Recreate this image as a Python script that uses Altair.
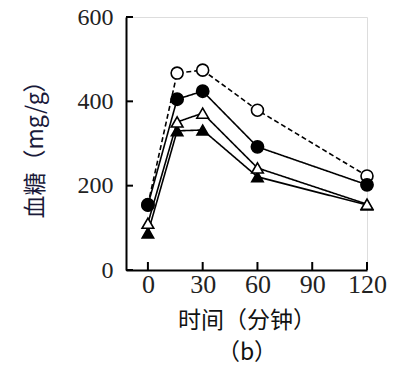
import altair as alt
import pandas as pd

# Data
times = [0, 16, 30, 60, 120]
open_circle = [155, 467, 474, 379, 223]      # dashed line, open circles
filled_circle = [154, 405, 424, 292, 202]    # solid line, filled circles
open_triangle = [111, 351, 372, 242, 156]    # solid line, open triangles
filled_triangle = [88, 330, 332, 221, 154]   # solid line, filled triangles
x_ticks = [0, 30, 60, 90, 120]
y_ticks = [0, 200, 400, 600]
x_title = ["时间（分钟）", "（b）"]
y_title = "血糖（mg/g）"

series_order = ["filled_triangle", "open_triangle", "open_circle", "filled_circle"]
series_vals = {
    "filled_triangle": filled_triangle,
    "open_triangle": open_triangle,
    "open_circle": open_circle,
    "filled_circle": filled_circle,
}
rows = []
for i, s in enumerate(series_order):
    for t, v in zip(times, series_vals[s]):
        rows.append({"series": s, "order": i, "t": t, "v": v})
df = pd.DataFrame(rows)

xscale = alt.Scale(domain=[-12, 120], nice=False, zero=False)
yscale = alt.Scale(domain=[0, 600], nice=False)

serif = "Liberation Serif"
cjk = "Noto Sans CJK SC"

x_enc = alt.X("t:Q", scale=xscale,
              axis=alt.Axis(values=x_ticks, ticks=False, grid=False, domainColor="black",
                            domainWidth=2, labelFont=serif, labelFontSize=26, labelColor="#222",
                            labelPadding=1, labelFlush=False, labelOverlap=False,
                            title=x_title, titleFont=cjk, titleFontSize=23, titleLineHeight=32,
                            titleFontWeight="normal", titleColor="#111", titlePadding=12))
y_enc = alt.Y("v:Q", scale=yscale,
              axis=alt.Axis(values=y_ticks, ticks=False, grid=False, domainColor="black",
                            domainWidth=2, labelFont=serif, labelFontSize=24, labelColor="#222",
                            labelPadding=13, labelFlush=False, labelOverlap=False,
                            title=y_title, titleFont=cjk, titleFontSize=23,
                            titleFontWeight="normal", titleColor="#1a1a3a", titlePadding=30))

dash_scale = alt.Scale(domain=series_order, range=[[1, 0], [1, 0], [5, 3], [1, 0]])
lines = alt.Chart(df).mark_line(color="black", strokeWidth=1.6).encode(
    x=x_enc, y=y_enc,
    detail="series:N",
    strokeDash=alt.StrokeDash("series:N", scale=dash_scale, legend=None),
)

points = alt.Chart(df).mark_point(filled=True, stroke="black", strokeWidth=1.6, opacity=1).encode(
    x=alt.X("t:Q", scale=xscale),
    y=alt.Y("v:Q", scale=yscale),
    shape=alt.Shape("series:N", scale=alt.Scale(domain=series_order,
                    range=["triangle-up", "triangle-up", "circle", "circle"]), legend=None),
    fill=alt.Fill("series:N", scale=alt.Scale(domain=series_order,
                  range=["black", "white", "white", "black"]), legend=None),
    size=alt.Size("series:N", scale=alt.Scale(domain=series_order,
                  range=[130, 150, 95, 140]), legend=None),
    order=alt.Order("order:Q"),
)

ytick_df = pd.DataFrame({"v": y_ticks})
yticks = alt.Chart(ytick_df).mark_rule(color="black", strokeWidth=2).encode(
    y=alt.Y("v:Q", scale=yscale), x=alt.value(0), x2=alt.value(7))
xtick_df = pd.DataFrame({"t": x_ticks})
xticks = alt.Chart(xtick_df).mark_rule(color="black", strokeWidth=2).encode(
    x=alt.X("t:Q", scale=xscale), y=alt.value(253), y2=alt.value(245))

chart = alt.layer(lines, points, yticks, xticks).properties(
    width=241, height=253,
    autosize=alt.AutoSizeParams(type="none"),
    padding={"left": 118, "top": 9, "right": 20, "bottom": 100},
).configure_view(stroke=None).configure(background="white")

chart.save("out.html", embed_options={"renderer": "svg", "actions": False})
